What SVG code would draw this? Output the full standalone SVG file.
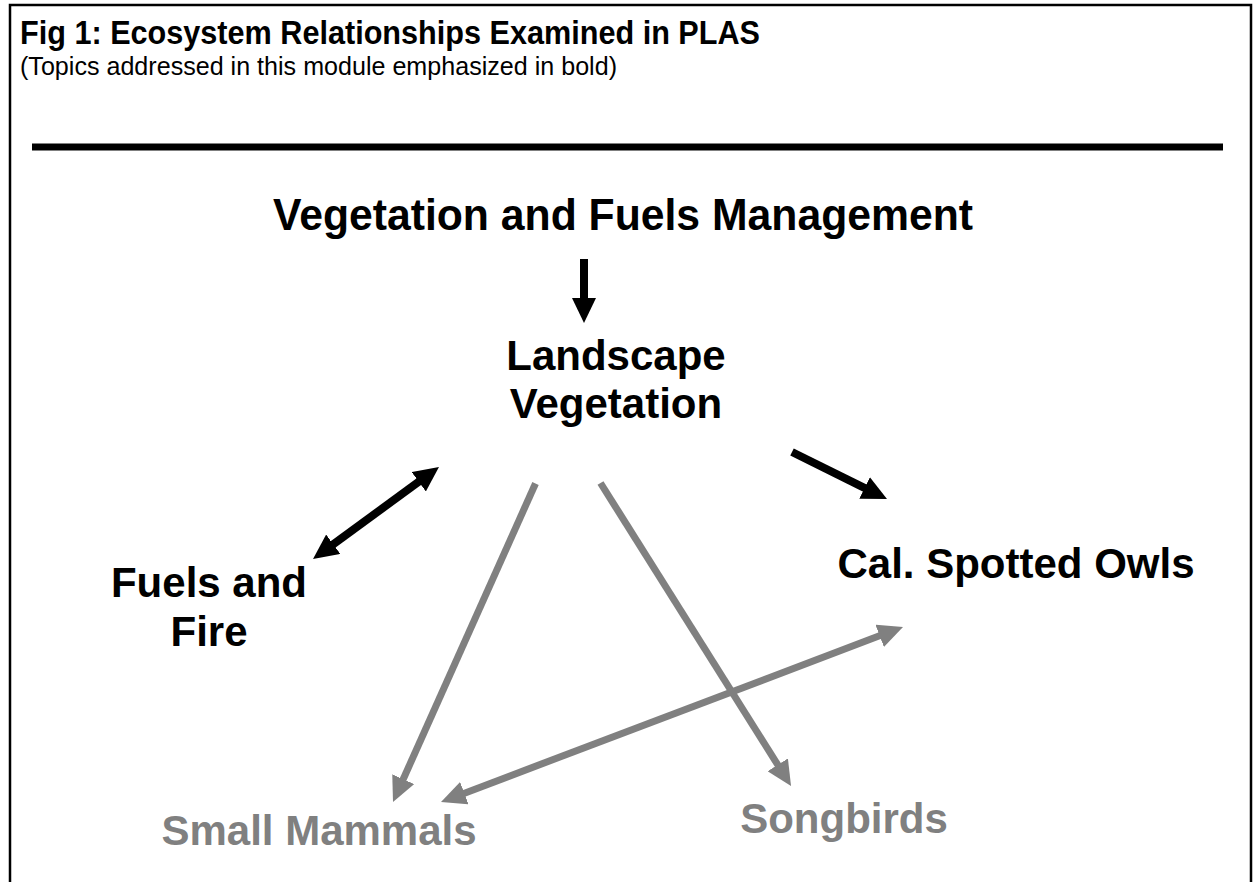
<svg xmlns="http://www.w3.org/2000/svg" width="1256" height="882" viewBox="0 0 1256 882">
  <style>
    text { font-family: "Liberation Sans", Arial, sans-serif; }
    .title { font-size: 34px; font-weight: bold; fill: #000; }
    .sub { font-size: 26px; fill: #000; }
    .head { font-size: 45px; font-weight: bold; fill: #000; text-anchor: middle; }
    .node { font-size: 42px; font-weight: bold; fill: #000; text-anchor: middle; }
    .gnode { font-size: 42px; font-weight: bold; fill: #808080; text-anchor: middle; }
    .blk { stroke: #000; stroke-width: 8; fill: none; }
    .gry { stroke: #808080; stroke-width: 7; fill: none; }
  </style>
  <defs>
    <marker id="ahB" markerUnits="userSpaceOnUse" viewBox="0 0 25 24" markerWidth="25" markerHeight="24" refX="2" refY="12" orient="auto-start-reverse">
      <path d="M0,0 L25,12 L0,24 z" fill="#000"/>
    </marker>
    <marker id="ahG" markerUnits="userSpaceOnUse" viewBox="0 0 25 24" markerWidth="25" markerHeight="24" refX="2" refY="12" orient="auto-start-reverse">
      <path d="M0,0 L25,12 L0,24 z" fill="#808080"/>
    </marker>
  </defs>
  <rect x="0" y="0" width="1256" height="882" fill="#fff"/>
  <rect x="10" y="5" width="1241" height="900" fill="none" stroke="#000" stroke-width="2.5"/>

  <g id="header">
    <text class="title" x="20" y="44" textLength="740" lengthAdjust="spacingAndGlyphs">Fig 1: Ecosystem Relationships Examined in PLAS</text>
    <text class="sub" x="20" y="75" textLength="597" lengthAdjust="spacingAndGlyphs">(Topics addressed in this module emphasized in bold)</text>
    <line x1="32" y1="147" x2="1223" y2="147" stroke="#000" stroke-width="7"/>
  </g>

  <g id="connectors">
    <line class="blk" x1="584" y1="259" x2="584" y2="300" marker-end="url(#ahB)"/>
    <line class="blk" x1="331.6" y1="545.4" x2="420.4" y2="480.6" marker-start="url(#ahB)" marker-end="url(#ahB)"/>
    <line class="blk" x1="792" y1="452" x2="866.4" y2="488.8" marker-end="url(#ahB)"/>
    <line class="gry" x1="535.5" y1="483.5" x2="402.4" y2="781" marker-end="url(#ahG)"/>
    <line class="gry" x1="600.5" y1="483" x2="778.8" y2="766.5" marker-end="url(#ahG)"/>
    <line class="gry" x1="462.5" y1="793.9" x2="881.5" y2="635.1" marker-start="url(#ahG)" marker-end="url(#ahG)"/>
  </g>

  <g id="node-management">
    <text class="head" x="623" y="230" textLength="700" lengthAdjust="spacingAndGlyphs">Vegetation and Fuels Management</text>
  </g>
  <g id="node-landscape">
    <text class="node" x="616" y="370">Landscape</text>
    <text class="node" x="616" y="418">Vegetation</text>
  </g>
  <g id="node-fuels">
    <text class="node" x="209" y="597">Fuels and</text>
    <text class="node" x="209" y="646">Fire</text>
  </g>
  <g id="node-owls">
    <text class="node" x="1016" y="578">Cal. Spotted Owls</text>
  </g>
  <g id="node-mammals">
    <text class="gnode" x="319" y="845">Small Mammals</text>
  </g>
  <g id="node-songbirds">
    <text class="gnode" x="844" y="833">Songbirds</text>
  </g>
</svg>
